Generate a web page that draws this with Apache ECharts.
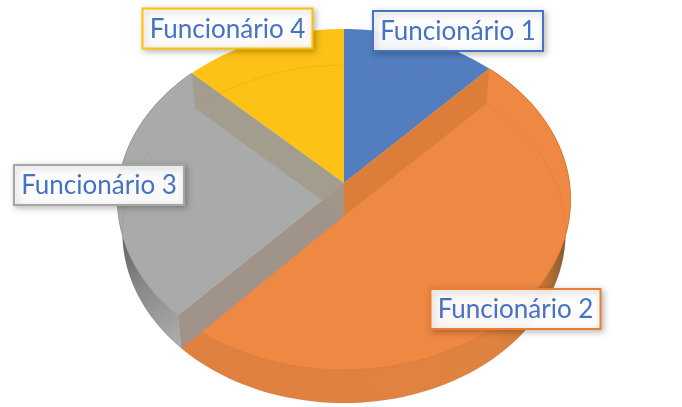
<!DOCTYPE html>
<html><head><meta charset="utf-8">
<style>html,body{margin:0;padding:0;background:#fff}#c{width:682px;height:407px}</style>
<script src="https://cdn.jsdelivr.net/npm/echarts@6/dist/echarts.min.js"></script>
</head><body><div id="c"></div>
<script>
var categories = ['Funcionário 1','Funcionário 2','Funcionário 3','Funcionário 4'];
var values = [12.1, 49.9, 25.2, 12.8];
var faceColors = ['#527dbf','#ef8843','#a9abaa','#fdc216'];
var wallColors = [null,'#dc7d39','#a0938a','rgba(161,153,135,0.78)'];
var labelBorders = ['#4472c4','#ed7d31','#a5a5a5','#ffc000'];
var labelCenters = [[458,31],[515.5,309],[99,185],[227.5,28.5]];

var view = {cx:344, cy:183, R:225.5, k:-0.0968, a:168.9, depth:33, shrink:0.978};
var boxW = 170, boxH = 40;
var total = values.reduce(function(s,v){return s+v;},0);

function topPt(th){
  var x=Math.sin(th), y=-Math.cos(th), d=1+view.k*y;
  return [view.cx+view.R*x/d, view.cy+view.a*y/d];
}
function lowPt(th){
  var p=topPt(th);
  return [view.cx+(p[0]-view.cx)*view.shrink, view.cy+view.depth+(p[1]-view.cy)*(th>Math.PI/2&&th<Math.PI*1.5?1:0.98)];
}
function arc(fn,a,b){
  var pts=[],n=72;
  for(var i=0;i<=n;i++) pts.push(fn(a+(b-a)*i/n));
  return pts;
}
function grad(x,y,x2,y2,stops){
  return {type:'linear',global:true,x:x,y:y,x2:x2,y2:y2,colorStops:stops.map(function(s){return {offset:s[0],color:s[1]};})};
}
var sideFill = {
  1: grad(180,340,572,300,[[0,'#df8040'],[0.8,'#e0823f'],[0.93,'#c9742f'],[1,'#7d5a3c']]),
  2: grad(118,235,190,345,[[0,'#5f5f5f'],[0.45,'#8b8b8b'],[1,'#b0b0b0']])
};
var edgeColors = {1:'#df7a32',2:'#9d9d9d'};

function renderItem(params, api){
  var i=params.dataIndex, start=0;
  for(var j=0;j<i;j++) start+=values[j];
  var a=start/total*2*Math.PI, b=(start+api.value(0))/total*2*Math.PI;
  var c=[view.cx,view.cy], lc=[view.cx,view.cy+view.depth];
  var kids=[];
  if(sideFill[i]){
    kids.push({type:'polygon',z2:1,shape:{points:arc(topPt,a,b).concat(arc(lowPt,a,b).reverse())},style:{fill:sideFill[i]}});
  }
  kids.push({type:'polygon',z2:2,shape:{points:[c].concat(arc(topPt,a,b))},style:{fill:faceColors[i]}});
  kids.push({type:'polyline',z2:3,shape:{points:arc(lowPt,a,b)},style:{fill:null,stroke:'rgba(110,90,60,0.10)',lineWidth:1}});
  if(edgeColors[i]){
    kids.push({type:'polyline',z2:3,shape:{points:arc(topPt,a,b)},style:{fill:null,stroke:edgeColors[i],lineWidth:1}});
  }
  if(wallColors[i]){
    kids.push({type:'polygon',z2:4+i,shape:{points:[c,topPt(a),lowPt(a),lc]},style:{fill:wallColors[i]}});
  }
  var lab=labelCenters[i];
  kids.push({type:'rect',z2:20,shape:{x:lab[0]-boxW/2,y:lab[1]-boxH/2,width:boxW,height:boxH},
    style:{fill:'rgba(255,255,255,0.95)',stroke:labelBorders[i],lineWidth:2,shadowBlur:6,shadowColor:'rgba(0,0,0,0.25)',shadowOffsetX:2,shadowOffsetY:2}});
  kids.push({type:'text',z2:21,style:{text:categories[i],x:lab[0],y:lab[1]+1,fill:'#4472c4',font:'26px Lato',align:'center',verticalAlign:'middle'}});
  return {type:'group',children:kids};
}
var chart=echarts.init(document.getElementById('c'),null,{renderer:'canvas'});
chart.setOption({
  animation:false,
  backgroundColor:'#fff',
  series:[{type:'custom',coordinateSystem:'none',renderItem:renderItem,data:values.map(function(v,i){return {name:categories[i],value:[v]};})}]
});
</script></body></html>
